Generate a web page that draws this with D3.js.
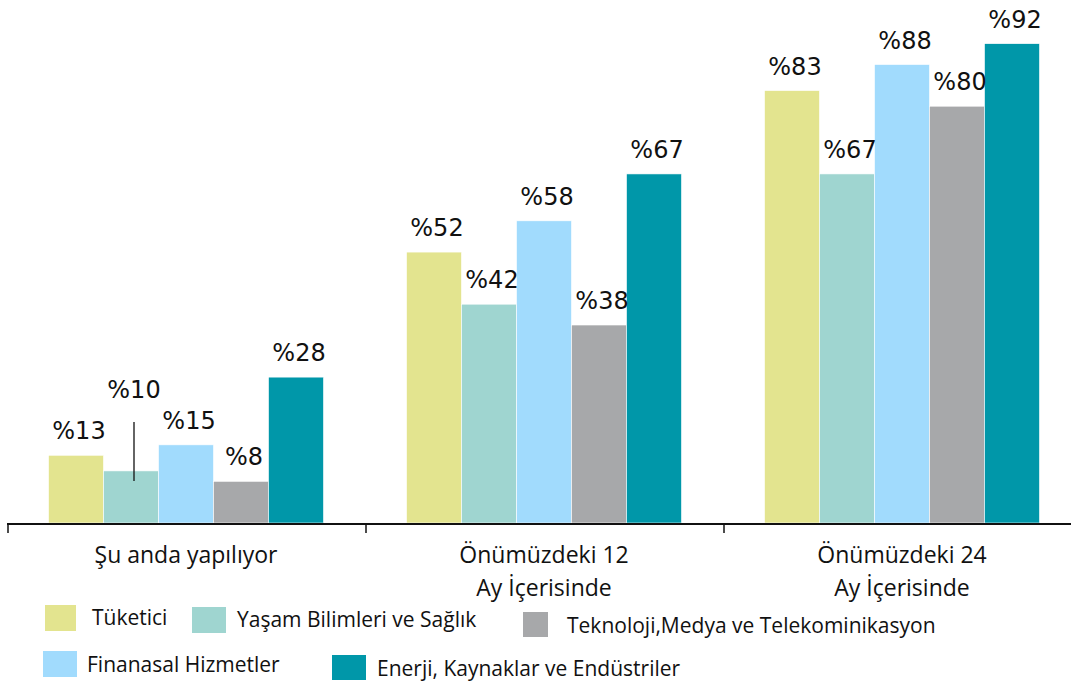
<!DOCTYPE html>
<html>
<head>
<meta charset="utf-8">
<script src="https://cdn.jsdelivr.net/npm/d3@7"></script>
<style>
  body { margin: 0; background: #fff; }
  text { fill: #111; }
</style>
</head>
<body>
<script>
const categories = [["Şu anda yapılıyor"], ["Önümüzdeki 12", "Ay İçerisinde"], ["Önümüzdeki 24", "Ay İçerisinde"]];
const series = ["Tüketici", "Yaşam Bilimleri ve Sağlık", "Finanasal Hizmetler", "Teknoloji,Medya ve Telekominikasyon", "Enerji, Kaynaklar ve Endüstriler"];
const colors = ["#e3e48f", "#9fd5d0", "#a1dbfd", "#a7a8aa", "#0097a9"];
const values = [
  [13, 52, 83],
  [10, 42, 67],
  [15, 58, 88],
  [8, 38, 80],
  [28, 67, 92]
];

const w = 1071;
const h = 682;
const base = 523;

const svg = d3.select("body").append("svg")
  .attr("width", w)
  .attr("height", h);

const x0 = d3.scaleBand()
  .domain(d3.range(categories.length))
  .range([7, 1081])
  .padding(0);

const x1 = d3.scaleBand()
  .domain(d3.range(series.length))
  .range([0, x0.bandwidth()])
  .paddingInner(0)
  .paddingOuter(0.7545);

const y = d3.scaleLinear()
  .domain([0, 100])
  .range([base, 2]);

// bars
const data = [];
series.forEach((s, si) => {
  categories.forEach((c, ci) => {
    data.push({ si, ci, v: values[si][ci] });
  });
});

svg.selectAll("rect.bar")
  .data(data)
  .enter()
  .append("rect")
  .attr("class", "bar")
  .attr("x", d => x0(d.ci) + x1(d.si))
  .attr("y", d => y(d.v))
  .attr("width", x1.bandwidth())
  .attr("height", d => base - y(d.v))
  .attr("fill", d => colors[d.si])
  .attr("stroke", "#fff")
  .attr("stroke-width", 0.6);

// value labels (%10 is lifted with a leader line)
const lift = d => (d.si === 1 && d.ci === 0) ? 57 : 0;

svg.selectAll("text.val")
  .data(data)
  .enter()
  .append("text")
  .attr("class", "val")
  .attr("x", d => x0(d.ci) + x1(d.si) + x1.bandwidth() / 2 + 3)
  .attr("y", d => y(d.v) - 16 - lift(d))
  .attr("text-anchor", "middle")
  .style("font-family", "DejaVu Sans")
  .style("font-size", "24px")
  .text(d => "%" + d.v);

const lead = data.filter(d => lift(d) > 0);
svg.selectAll("line.lead")
  .data(lead)
  .enter()
  .append("line")
  .attr("x1", d => x0(d.ci) + x1(d.si) + x1.bandwidth() / 2 + 3)
  .attr("x2", d => x0(d.ci) + x1(d.si) + x1.bandwidth() / 2 + 3)
  .attr("y1", d => y(d.v) - lift(d) + 8)
  .attr("y2", d => y(d.v) + 10)
  .attr("stroke", "#111")
  .attr("stroke-width", 1.3);

// axis
const axis = svg.append("g");
axis.append("line")
  .attr("x1", 7).attr("x2", w)
  .attr("y1", base + 1).attr("y2", base + 1)
  .attr("stroke", "#111").attr("stroke-width", 2);

axis.selectAll("line.tick")
  .data(d3.range(categories.length))
  .enter()
  .append("line")
  .attr("x1", d => x0(d) + 1).attr("x2", d => x0(d) + 1)
  .attr("y1", base).attr("y2", base + 10)
  .attr("stroke", "#111").attr("stroke-width", 1.5);

axis.selectAll("text.cat")
  .data(categories)
  .enter()
  .append("text")
  .attr("class", "cat")
  .attr("x", (d, i) => x0(i) + x0.bandwidth() / 2)
  .attr("y", 563)
  .attr("text-anchor", "middle")
  .style("font-family", "Open Sans")
  .style("font-size", "23px")
  .each(function(d) {
    d3.select(this).selectAll("tspan")
      .data(d)
      .enter()
      .append("tspan")
      .attr("x", d3.select(this).attr("x"))
      .attr("dy", (t, j) => j === 0 ? 0 : 33)
      .text(t => t);
  });

// legend
const legendPos = [
  { sx: 45, sy: 605, sw: 31, sh: 26, tx: 92, ty: 625 },
  { sx: 192, sy: 607, sw: 34, sh: 26, tx: 237, ty: 627 },
  { sx: 43, sy: 651, sw: 34, sh: 26, tx: 87, ty: 672 },
  { sx: 523, sy: 612, sw: 25, sh: 25, tx: 567, ty: 633 },
  { sx: 332, sy: 655, sw: 34, sh: 25, tx: 377, ty: 676 }
];

const legend = svg.selectAll("g.leg")
  .data(series)
  .enter()
  .append("g")
  .attr("class", "leg");

legend.append("rect")
  .attr("x", (d, i) => legendPos[i].sx)
  .attr("y", (d, i) => legendPos[i].sy)
  .attr("width", (d, i) => legendPos[i].sw)
  .attr("height", (d, i) => legendPos[i].sh)
  .attr("fill", (d, i) => colors[i]);

legend.append("text")
  .attr("x", (d, i) => legendPos[i].tx)
  .attr("y", (d, i) => legendPos[i].ty)
  .style("font-family", "Open Sans")
  .style("font-size", "21px")
  .text(d => d);
</script>
</body>
</html>
